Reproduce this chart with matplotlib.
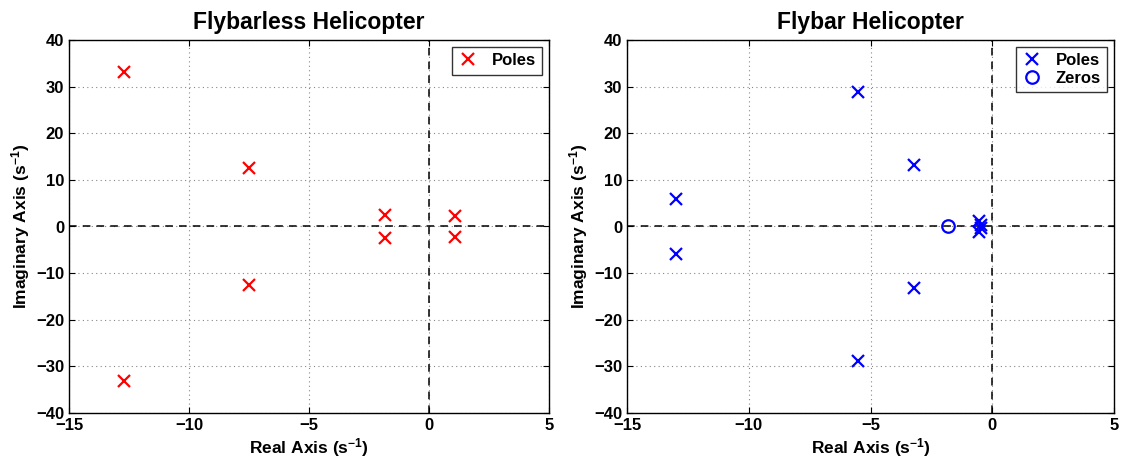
import matplotlib
matplotlib.use("Agg")
import matplotlib.pyplot as plt

plt.rcParams["font.family"] = ["Liberation Sans", "DejaVu Sans"]
plt.rcParams["font.weight"] = "bold"
plt.rcParams["mathtext.fontset"] = "custom"
plt.rcParams["mathtext.rm"] = "Liberation Sans:bold"
plt.rcParams["mathtext.bf"] = "Liberation Sans:bold"
plt.rcParams["mathtext.default"] = "bf"

# Flybarless helicopter poles
flybarless_poles_re = [-12.7, -12.7, -7.5, -7.5, -1.85, -1.85, 1.1, 1.1]
flybarless_poles_im = [33.2, -33.2, 12.6, -12.6, 2.4, -2.4, 2.2, -2.2]

# Flybar helicopter poles and zeros
flybar_poles_re = [-13.0, -13.0, -5.5, -5.5, -3.2, -3.2, -0.55, -0.55, -0.45, -0.45]
flybar_poles_im = [5.8, -5.8, 28.8, -28.8, 13.2, -13.2, 1.2, -1.2, 0.4, -0.4]
flybar_zeros_re = [-1.8]
flybar_zeros_im = [0.0]

titles = ["Flybarless Helicopter", "Flybar Helicopter"]
x_ticks = [-15, -10, -5, 0, 5]
y_ticks = [-40, -30, -20, -10, 0, 10, 20, 30, 40]

fig = plt.figure(figsize=(11.28, 4.65), dpi=100)
ax1 = fig.add_axes([69 / 1128, 1 - 413 / 465, 480 / 1128, 373 / 465])
ax2 = fig.add_axes([627 / 1128, 1 - 413 / 465, 487 / 1128, 373 / 465])


def style(ax, title):
    ax.set_xlim(-15, 5)
    ax.set_ylim(-40, 40)
    ax.set_xticks(x_ticks)
    ax.set_yticks(y_ticks)
    ax.grid(True, linestyle=(0, (1, 3)), color="#888888", linewidth=0.8)
    ax.set_axisbelow(True)
    ax.axhline(0, color="black", linestyle=(0, (5, 4)), linewidth=1.1, zorder=1.5)
    ax.axvline(0, color="black", linestyle=(0, (5, 4)), linewidth=1.1, zorder=1.5)
    ax.tick_params(direction="in", length=4, width=0.8, labelsize=12,
                   top=True, right=True)
    for lab in ax.get_xticklabels() + ax.get_yticklabels():
        lab.set_fontweight("bold")
    for sp in ax.spines.values():
        sp.set_linewidth(1.0)
    ax.set_title(title, fontsize=16.5, fontweight="bold", pad=8)
    ax.set_xlabel("Real Axis (s$^{-1}$)", fontsize=12.5, fontweight="bold", labelpad=2)
    ax.set_ylabel("Imaginary Axis (s$^{-1}$)", fontsize=12.5, fontweight="bold", labelpad=3)


style(ax1, titles[0])
ax1.plot(flybarless_poles_re, flybarless_poles_im, linestyle="none", marker="x",
         color="red", markersize=9, markeredgewidth=1.6, label="Poles", zorder=3)
leg1 = ax1.legend(loc="upper right", handlelength=1.2,
                  fancybox=False, edgecolor="black", borderaxespad=0.4,
                  handletextpad=0.8, prop={"weight": "bold", "size": 12})
leg1.get_frame().set_linewidth(1.0)

style(ax2, titles[1])
ax2.plot(flybar_poles_re, flybar_poles_im, linestyle="none", marker="x",
         color="blue", markersize=9, markeredgewidth=1.6, label="Poles", zorder=3)
ax2.plot(flybar_zeros_re, flybar_zeros_im, linestyle="none", marker="o",
         markerfacecolor="none", markeredgecolor="blue", markersize=9,
         markeredgewidth=1.6, label="Zeros", zorder=3)
leg2 = ax2.legend(loc="upper right", handlelength=1.2, fancybox=False,
                  edgecolor="black", borderaxespad=0.4, handletextpad=0.8,
                  labelspacing=0.15, prop={"weight": "bold", "size": 12})
leg2.get_frame().set_linewidth(1.0)

fig.savefig("out.png", dpi=100)
